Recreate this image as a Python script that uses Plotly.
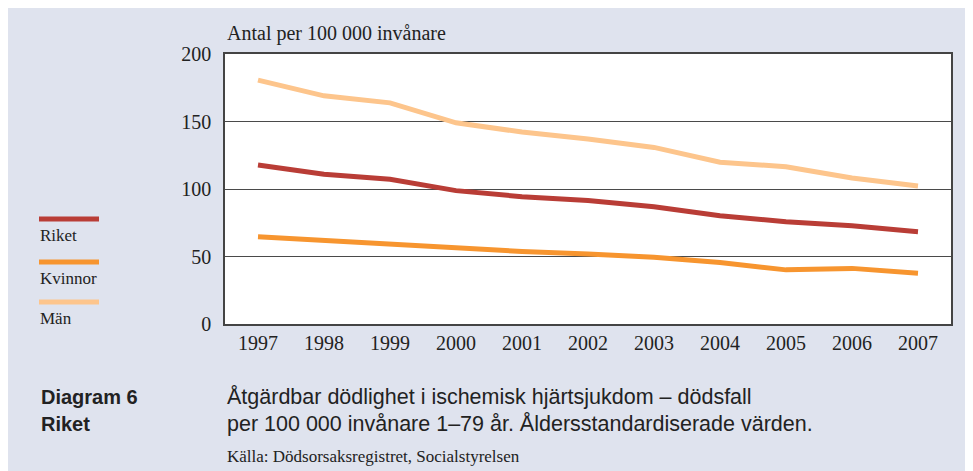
import plotly.graph_objects as go

# data
years = [1997, 1998, 1999, 2000, 2001, 2002, 2003, 2004, 2005, 2006, 2007]
man = [180.7, 169.0, 163.8, 149.0, 142.2, 137.0, 130.8, 119.8, 116.5, 108.2, 102.2]
riket = [117.8, 111.0, 107.2, 98.8, 94.3, 91.4, 86.9, 80.2, 75.8, 72.7, 68.4]
kvinnor = [64.7, 61.8, 59.3, 55.7, 53.7, 51.9, 49.4, 45.5, 40.1, 41.2, 37.6]
y_ticks = [0, 50, 100, 150, 200]

#style
bg = '#dfe3ee'
c_riket = '#b93d36'
c_kvinnor = '#f7952f'
c_man = '#fdc58c'
serif = 'Liberation Serif'
sans = 'Liberation Sans'

# page is drawn with an 8px body margin, so work in figure pixels
L, R, T, B = 217, 22, 46, 147
W, H = 965, 463
pw, ph = W - L - R, H - T - B
def px(x):
    return (x - L) / pw
def py(y):
    return (H - B - y) / ph

fig = go.Figure()
for name, vals, col in [('Män', man, c_man), ('Riket', riket, c_riket), ('Kvinnor', kvinnor, c_kvinnor)]:
    fig.add_trace(go.Scatter(x=years, y=vals, name=name, mode='lines',
                             line=dict(color=col, width=5), showlegend=False))

shapes = []
annotations = []
#legend
for (name, col, ly) in [('Riket', c_riket, 211), ('Kvinnor', c_kvinnor, 254), ('Män', c_man, 294)]:
    shapes.append(dict(type='line', xref='paper', yref='paper', x0=px(31), x1=px(91),
                       y0=py(ly), y1=py(ly), line=dict(color=col, width=5)))
    annotations.append(dict(text=name, xref='paper', yref='paper', x=px(30), y=py(ly + 16),
                            xanchor='left', yanchor='middle', showarrow=False,
                            font=dict(family=serif, size=17, color='#222')))

annotations += [
    dict(text='Antal per 100 000 invånare', xref='paper', yref='paper', x=px(217), y=py(26),
         xanchor='left', yanchor='middle', showarrow=False, font=dict(family=serif, size=20, color='#222')),
    dict(text='<b>Diagram 6</b>', xref='paper', yref='paper', x=px(31), y=py(389),
         xanchor='left', yanchor='middle', showarrow=False, font=dict(family=sans, size=20, color='#222')),
    dict(text='<b>Riket</b>', xref='paper', yref='paper', x=px(31), y=py(416),
         xanchor='left', yanchor='middle', showarrow=False, font=dict(family=sans, size=20, color='#222')),
    dict(text='Åtgärdbar dödlighet i ischemisk hjärtsjukdom – dödsfall', xref='paper', yref='paper',
         x=px(217), y=py(389), xanchor='left', yanchor='middle', showarrow=False,
         font=dict(family=sans, size=21.5, color='#222')),
    dict(text='per 100 000 invånare 1–79 år. Åldersstandardiserade värden.', xref='paper', yref='paper',
         x=px(217), y=py(416), xanchor='left', yanchor='middle', showarrow=False,
         font=dict(family=sans, size=21.5, color='#222')),
    dict(text='Källa: Dödsorsaksregistret, Socialstyrelsen', xref='paper', yref='paper',
         x=px(217), y=py(449), xanchor='left', yanchor='middle', showarrow=False,
         font=dict(family=serif, size=17, color='#222')),
]

fig.update_layout(
    width=W, height=H,
    margin=dict(l=L, r=R, t=T, b=B),
    paper_bgcolor=bg, plot_bgcolor='white',
    shapes=shapes, annotations=annotations,
    xaxis=dict(range=[1996.5, 2007.5], tickmode='array', tickvals=years,
               ticktext=[str(y) for y in years], showgrid=False, zeroline=False,
               showline=True, linecolor='#444', linewidth=1.5, mirror=True, ticks='',
               tickfont=dict(family=serif, size=20, color='#222')),
    yaxis=dict(range=[0, 200], tickmode='array', tickvals=y_ticks, showgrid=True,
               gridcolor='#4a4a4a', gridwidth=1, zeroline=False,
               showline=True, linecolor='#444', linewidth=1.5, mirror=True, ticks='',
               ticklabelstandoff=8,
               tickfont=dict(family=serif, size=20, color='#222')),
)

fig.write_html("out.html")
